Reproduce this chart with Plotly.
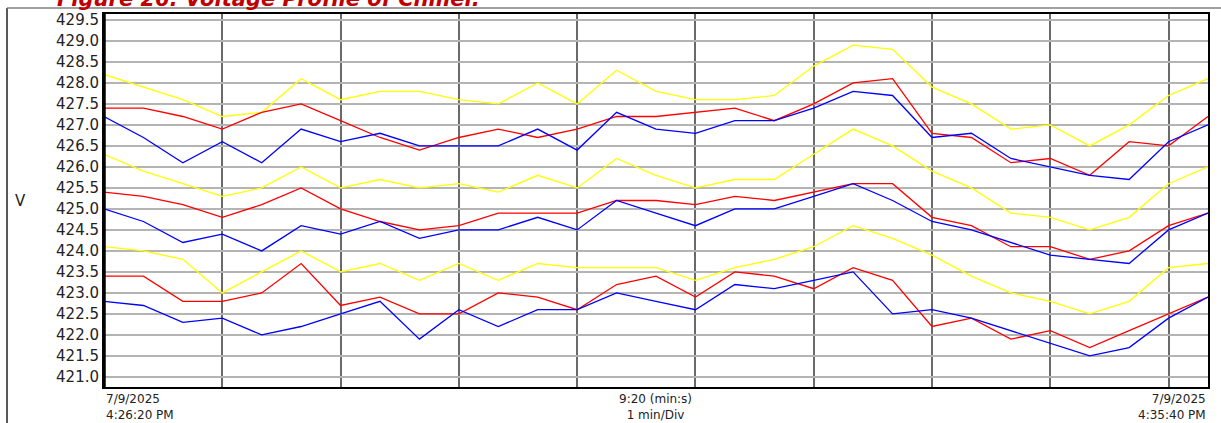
import plotly.graph_objects as go

# seconds from 7/9/2025 4:26:20 PM, one sample every 20 s
SECONDS = [0, 20, 40, 60, 80, 100, 120, 140, 160, 180, 200, 220, 240, 260, 280,
           300, 320, 340, 360, 380, 400, 420, 440, 460, 480, 500, 520, 540, 560]

Y_MAX = [428.2, 427.9, 427.6, 427.2, 427.3, 428.1, 427.6, 427.8, 427.8, 427.6,
         427.5, 428.0, 427.5, 428.3, 427.8, 427.6, 427.6, 427.7, 428.4, 428.9,
         428.8, 427.9, 427.5, 426.9, 427.0, 426.5, 427.0, 427.7, 428.1]
R_MAX = [427.4, 427.4, 427.2, 426.9, 427.3, 427.5, 427.1, 426.7, 426.4, 426.7,
         426.9, 426.7, 426.9, 427.2, 427.2, 427.3, 427.4, 427.1, 427.5, 428.0,
         428.1, 426.8, 426.7, 426.1, 426.2, 425.8, 426.6, 426.5, 427.2]
B_MAX = [427.2, 426.7, 426.1, 426.6, 426.1, 426.9, 426.6, 426.8, 426.5, 426.5,
         426.5, 426.9, 426.4, 427.3, 426.9, 426.8, 427.1, 427.1, 427.4, 427.8,
         427.7, 426.7, 426.8, 426.2, 426.0, 425.8, 425.7, 426.6, 427.0]

Y_AVG = [426.3, 425.9, 425.6, 425.3, 425.5, 426.0, 425.5, 425.7, 425.5, 425.6,
         425.4, 425.8, 425.5, 426.2, 425.8, 425.5, 425.7, 425.7, 426.3, 426.9,
         426.5, 425.9, 425.5, 424.9, 424.8, 424.5, 424.8, 425.6, 426.0]
R_AVG = [425.4, 425.3, 425.1, 424.8, 425.1, 425.5, 425.0, 424.7, 424.5, 424.6,
         424.9, 424.9, 424.9, 425.2, 425.2, 425.1, 425.3, 425.2, 425.4, 425.6,
         425.6, 424.8, 424.6, 424.1, 424.1, 423.8, 424.0, 424.6, 424.9]
B_AVG = [425.0, 424.7, 424.2, 424.4, 424.0, 424.6, 424.4, 424.7, 424.3, 424.5,
         424.5, 424.8, 424.5, 425.2, 424.9, 424.6, 425.0, 425.0, 425.3, 425.6,
         425.2, 424.7, 424.5, 424.2, 423.9, 423.8, 423.7, 424.5, 424.9]

Y_MIN = [424.1, 424.0, 423.8, 423.0, 423.5, 424.0, 423.5, 423.7, 423.3, 423.7,
         423.3, 423.7, 423.6, 423.6, 423.6, 423.3, 423.6, 423.8, 424.1, 424.6,
         424.3, 423.9, 423.4, 423.0, 422.8, 422.5, 422.8, 423.6, 423.7]
R_MIN = [423.4, 423.4, 422.8, 422.8, 423.0, 423.7, 422.7, 422.9, 422.5, 422.5,
         423.0, 422.9, 422.6, 423.2, 423.4, 422.9, 423.5, 423.4, 423.1, 423.6,
         423.3, 422.2, 422.4, 421.9, 422.1, 421.7, 422.1, 422.5, 422.9]
B_MIN = [422.8, 422.7, 422.3, 422.4, 422.0, 422.2, 422.5, 422.8, 421.9, 422.6,
         422.2, 422.6, 422.6, 423.0, 422.8, 422.6, 423.2, 423.1, 423.3, 423.5,
         422.5, 422.6, 422.4, 422.1, 421.8, 421.5, 421.7, 422.4, 422.9]

TITLE = "Figure 26: Voltage Profile of Chiller."
START_LABEL = "7/9/2025<br>4:26:20 PM"
MID_LABEL = "9:20 (min:s)<br>1 min/Div"
END_LABEL = "7/9/2025<br>4:35:40 PM"

_W, _H = 1221, 423
_L, _R, _T, _B = 104, 13, 14, 36
_FONT = "DejaVu Sans"
_COLORS = {"Y": "#ffff00", "R": "#ff0000", "B": "#0000ff"}

series = [
    ("Y", Y_MAX), ("R", R_MAX), ("B", B_MAX),
    ("Y", Y_AVG), ("R", R_AVG), ("B", B_AVG),
    ("Y", Y_MIN), ("R", R_MIN), ("B", B_MIN),
]

fig = go.Figure()
for phase, vals in series:
    fig.add_trace(go.Scatter(
        x=SECONDS, y=vals, mode="lines",
        line=dict(color=_COLORS[phase], width=1.3),
        showlegend=False, hoverinfo="skip",
    ))

plot_w = _W - _L - _R
plot_h = _H - _T - _B


def px_x(px):
    return (px - _L) / plot_w


def px_y(py):
    return (_H - _B - py) / plot_h


_lbl_font = dict(family=_FONT, size=12, color="#222222")
annotations = [
    dict(text=TITLE, x=px_x(55), y=1, xref="paper", yref="paper",
         xanchor="left", yanchor="bottom", yshift=1, showarrow=False,
         font=dict(family=_FONT, size=21, color="#c00000", weight="bold", style="italic")),
    dict(text="V", x=px_x(20), y=0.5, xref="paper", yref="paper",
         xanchor="center", yanchor="middle", showarrow=False,
         font=dict(family=_FONT, size=15, color="#222222")),
    dict(text=START_LABEL, x=0, y=px_y(406.5), xref="paper", yref="paper",
         xanchor="left", yanchor="middle", align="left", showarrow=False, font=_lbl_font),
    dict(text=MID_LABEL, x=px_x(655), y=px_y(406.5), xref="paper", yref="paper",
         xanchor="center", yanchor="middle", align="center", showarrow=False, font=_lbl_font),
    dict(text=END_LABEL, x=1, y=px_y(406.5), xref="paper", yref="paper",
         xanchor="right", yanchor="middle", align="right", showarrow=False, font=_lbl_font),
]

shapes = [
    # outer frame
    dict(type="line", xref="paper", yref="paper", x0=px_x(7), x1=px_x(7),
         y0=px_y(8), y1=px_y(430), line=dict(color="#222222", width=1.5)),
    dict(type="line", xref="paper", yref="paper", x0=px_x(7), x1=px_x(1230),
         y0=px_y(8), y1=px_y(8), line=dict(color="#808080", width=1.5)),
    # heavy left edge of plot
    dict(type="line", xref="paper", yref="paper", x0=0, x1=0, y0=0, y1=1,
         line=dict(color="#000000", width=3.5)),
]

fig.update_layout(
    width=_W, height=_H, autosize=False,
    margin=dict(l=_L, r=_R, t=_T, b=_B, pad=0),
    paper_bgcolor="white", plot_bgcolor="white",
    annotations=annotations, shapes=shapes,
    xaxis=dict(
        range=[0, 560], tick0=0, dtick=60, showticklabels=False, ticks="",
        showgrid=True, gridcolor="#6a6a6a", gridwidth=1.5, zeroline=False,
        showline=True, linecolor="#000000", linewidth=2, mirror=True,
    ),
    yaxis=dict(
        range=[420.76, 429.64], tick0=421, dtick=0.5, tickformat=".1f", ticks="",
        showgrid=True, gridcolor="#b4b4b4", gridwidth=1.5, zeroline=False,
        showline=True, linecolor="#000000", linewidth=2, mirror=True,
        tickfont=dict(family=_FONT, size=15, color="#222222"),
    ),
)

# page body has an 8px default margin; drop it so the figure sits at the window corner
fig.write_html("out.html", config={"displayModeBar": False},
               post_script="document.body.style.margin='0px';")
